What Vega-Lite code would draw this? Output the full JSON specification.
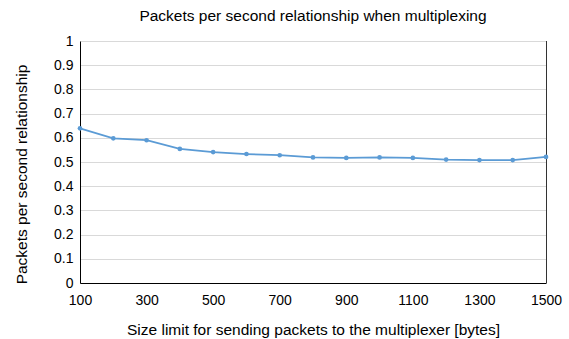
{
  "$schema": "https://vega.github.io/schema/vega-lite/v6.json",
  "width": 466,
  "height": 242,
  "autosize": {"type": "none"},
  "padding": {"left": 80, "top": 41, "right": 23, "bottom": 56},
  "background": "white",
  "title": {
    "text": "Packets per second relationship when multiplexing",
    "font": "Liberation Sans",
    "fontSize": 15.5,
    "fontWeight": "normal",
    "color": "#000000",
    "offset": 10,
    "anchor": "middle"
  },
  "config": {
    "view": {"stroke": null},
    "axis": {
      "labelFont": "Liberation Sans",
      "titleFont": "Liberation Sans",
      "labelFontSize": 14,
      "titleFontSize": 15.5,
      "titleFontWeight": "normal",
      "labelColor": "#000000",
      "titleColor": "#000000",
      "gridColor": "#D9D9D9",
      "gridWidth": 1,
      "domainColor": "#000000",
      "domainWidth": 1,
      "ticks": false
    }
  },
  "data": {
    "values": [
      {"size": 100, "ratio": 0.639},
      {"size": 200, "ratio": 0.598},
      {"size": 300, "ratio": 0.590},
      {"size": 400, "ratio": 0.554},
      {"size": 500, "ratio": 0.541},
      {"size": 600, "ratio": 0.533},
      {"size": 700, "ratio": 0.528},
      {"size": 800, "ratio": 0.519},
      {"size": 900, "ratio": 0.517},
      {"size": 1000, "ratio": 0.519},
      {"size": 1100, "ratio": 0.517},
      {"size": 1200, "ratio": 0.510},
      {"size": 1300, "ratio": 0.508},
      {"size": 1400, "ratio": 0.508},
      {"size": 1500, "ratio": 0.521}
    ]
  },
  "layer": [
    {
      "mark": {"type": "rule", "color": "#333333", "strokeWidth": 1, "xOffset": 0.5},
      "encoding": {
        "x": {"datum": 1500, "type": "quantitative"}
      }
    },
    {
      "mark": {
        "type": "line",
        "color": "#5B9BD5",
        "strokeWidth": 1.75,
        "point": {"filled": true, "size": 22, "color": "#5B9BD5"}
      },
      "encoding": {
        "x": {
          "field": "size",
          "type": "quantitative",
          "title": "Size limit for sending packets to the multiplexer [bytes]",
          "scale": {"domain": [100, 1500], "nice": false, "zero": false},
          "axis": {
            "values": [100, 300, 500, 700, 900, 1100, 1300, 1500],
            "format": "d",
            "labelPadding": 10,
            "titlePadding": 15,
            "labelFlush": false
          }
        },
        "y": {
          "field": "ratio",
          "type": "quantitative",
          "title": "Packets per second relationship",
          "scale": {"domain": [0, 1], "nice": false},
          "axis": {
            "values": [0, 0.1, 0.2, 0.3, 0.4, 0.5, 0.6, 0.7, 0.8, 0.9, 1],
            "format": "~g",
            "labelPadding": 7,
            "titlePadding": 24,
            "titleY": 133
          }
        }
      }
    }
  ]
}
